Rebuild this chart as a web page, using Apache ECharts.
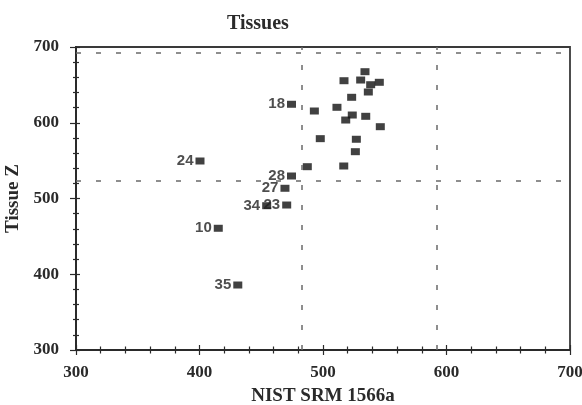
<!DOCTYPE html>
<html>
<head>
<meta charset="utf-8">
<script src="https://cdn.jsdelivr.net/npm/echarts@6/dist/echarts.min.js"></script>
<style>
  html, body { margin: 0; padding: 0; background: #fff; }
  #chart { width: 582px; height: 405px; }
</style>
</head>
<body>
<div id="chart"></div>
<script>
const titleText = 'Tissues';
const xAxisName = 'NIST SRM 1566a';
const yAxisName = 'Tissue Z';
const xVals = [534, 517, 530.5, 538.6, 545.6, 536.7, 523.2, 474.5, 511.3, 493, 523.7, 518.4, 534.6, 546.4, 497.8, 527, 526.2, 487.3, 516.8, 474.5, 400.4, 469.2, 454.4, 470.6, 415.2, 431];
const yVals = [667.4, 655.5, 656.4, 650.2, 653.4, 640.6, 633.6, 624.4, 620.4, 615.5, 610.2, 603.6, 608.5, 594.8, 579, 578.2, 561.8, 542, 542.9, 529.7, 549.5, 513.5, 490.5, 491.4, 460.7, 385.8];
const pointLabels = ['', '', '', '', '', '', '', '18', '', '', '', '', '', '', '', '', '', '', '', '28', '24', '27', '34', '23', '10', '35'];
const refLinesX = [483, 592];
const refLinesY = [523.5, 692.5];
const xRange = [300, 700];
const yRange = [300, 700];
const tickStep = 100;

const chart = echarts.init(document.getElementById('chart'), null, { renderer: 'canvas' });
const serif = '"Liberation Serif", "Times New Roman", serif';
const axisColor = '#2a2a2a';

const data = xVals.map((x, i) => ({ value: [x, yVals[i]], label: { show: pointLabels[i] !== '', formatter: pointLabels[i] } }));

const baseX = {
  type: 'value', min: xRange[0], max: xRange[1], interval: tickStep, position: 'bottom',
  splitLine: { show: false }
};
const baseY = {
  type: 'value', min: yRange[0], max: yRange[1], interval: tickStep, position: 'left',
  splitLine: { show: false }
};

chart.setOption({
  animation: false,
  backgroundColor: '#fff',
  title: {
    text: titleText, left: 222, top: 9,
    textStyle: { fontFamily: serif, fontWeight: 'bold', fontSize: 20, color: '#2a2a2a' }
  },
  grid: {
    left: 76, right: 12, top: 47, bottom: 55,
    outerBoundsMode: 'none', containLabel: false,
    show: true, borderColor: '#3a3a3a', borderWidth: 1.8, backgroundColor: 'transparent'
  },
  xAxis: [
    Object.assign({}, baseX, {
      name: xAxisName, nameLocation: 'middle', nameGap: 37,
      nameTextStyle: { fontFamily: serif, fontWeight: 'bold', fontSize: 19, color: '#2a2a2a' },
      axisLine: { show: true, lineStyle: { color: axisColor, width: 2 } },
      axisTick: { show: true, inside: false, length: 5, lineStyle: { color: axisColor, width: 1.2 } },
      minorTick: { show: true, splitNumber: 5, length: 3.5, lineStyle: { color: axisColor, width: 1.2 } },
      axisLabel: { margin: 14, fontFamily: serif, fontWeight: 'bold', fontSize: 17, color: '#2a2a2a' }
    }),
    Object.assign({}, baseX, {
      axisLine: { show: false },
      axisTick: { show: true, inside: true, length: 5, lineStyle: { color: axisColor, width: 1.2 } },
      minorTick: { show: true, splitNumber: 5, length: 3.5, lineStyle: { color: axisColor, width: 1.2 } },
      axisLabel: { show: false }
    })
  ],
  yAxis: [
    Object.assign({}, baseY, {
      name: yAxisName, nameLocation: 'middle', nameGap: 49,
      nameTextStyle: { fontFamily: serif, fontWeight: 'bold', fontSize: 19, color: '#2a2a2a' },
      axisLine: { show: true, lineStyle: { color: axisColor, width: 2 } },
      axisTick: { show: true, inside: false, length: 6, lineStyle: { color: axisColor, width: 1.2 } },
      minorTick: { show: true, splitNumber: 5, length: 3, lineStyle: { color: axisColor, width: 1.2 } },
      axisLabel: { margin: 17, fontFamily: serif, fontWeight: 'bold', fontSize: 17, color: '#2a2a2a' }
    }),
    Object.assign({}, baseY, {
      axisLine: { show: false },
      axisTick: { show: true, inside: true, length: 4, lineStyle: { color: axisColor, width: 1.2 } },
      minorTick: { show: true, splitNumber: 5, length: 3, lineStyle: { color: axisColor, width: 1.2 } },
      axisLabel: { show: false }
    })
  ],
  series: [{
    type: 'scatter',
    xAxisIndex: 0, yAxisIndex: 0,
    symbol: 'rect', symbolSize: [9, 7],
    itemStyle: { color: '#111' },
    label: {
      position: 'left', distance: 2,
      fontFamily: '"Liberation Sans", Arial, sans-serif', fontWeight: 'bold', fontSize: 15, color: '#222'
    },
    data: data,
    markLine: {
      silent: true, symbol: 'none', animation: false,
      label: { show: false },
      lineStyle: { color: '#6a6a6a', width: 1.5, type: [5, 15] },
      data: refLinesX.map(v => ({ xAxis: v })).concat(refLinesY.map(v => ({ yAxis: v })))
    }
  }]
});
</script>
</body>
</html>
